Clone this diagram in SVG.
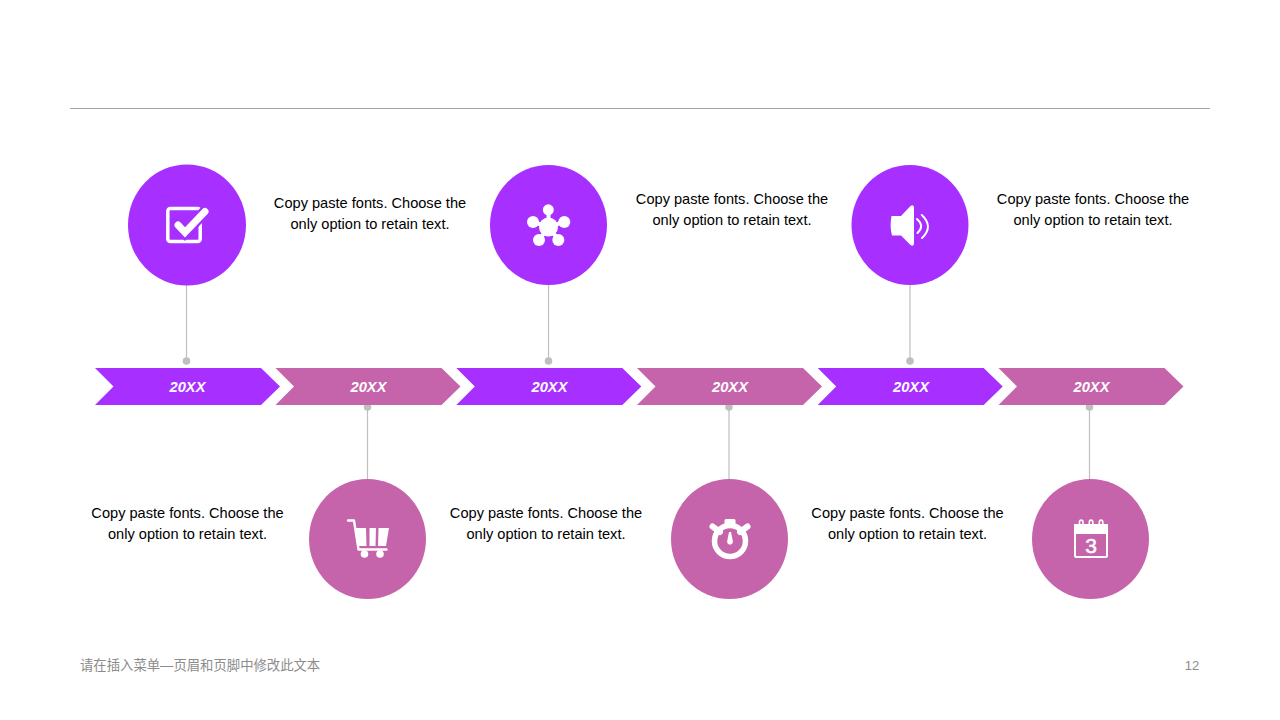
<svg xmlns="http://www.w3.org/2000/svg" width="1280" height="720" viewBox="0 0 1280 720">
<defs>
<path id="chev" d="M0 368H166L185 386.5L166 405H0L18.500 386.500Z"/>
</defs>
<style>
.p{fill:#a72fff}.m{fill:#c664ab}
.w{fill:#fff}
.ws{fill:none;stroke:#fff;stroke-linecap:round;stroke-linejoin:round}
.ln{stroke:#bfbfbf;stroke-width:1.200;fill:none}
.dot{fill:#bfbfbf}
text{font-family:"Liberation Sans",Arial,"Noto Sans CJK SC",sans-serif}
.yr{font-size:14.700px;font-weight:bold;font-style:italic;fill:#fff;text-anchor:middle}
.t{font-size:14.600px;fill:#000;text-anchor:middle}
</style>
<rect width="1280" height="720" fill="#fff"/>
<line x1="70" y1="108.500" x2="1210" y2="108.500" stroke="#a6a6a6" stroke-width="1"/>
<g id="connectors">
<path class="ln" d="M186.500 285V361M548.500 285V361M910 285V361M367.500 407V480M729 407V480M1089.500 407V480"/>
<circle class="dot" cx="186.500" cy="361" r="3.800"/><circle class="dot" cx="548.500" cy="361" r="3.800"/><circle class="dot" cx="910" cy="361" r="3.800"/>
<circle class="dot" cx="367.500" cy="407" r="3.800"/><circle class="dot" cx="729" cy="407" r="3.800"/><circle class="dot" cx="1089.500" cy="407" r="3.800"/>
</g>
<g id="band1"><use href="#chev" x="95" class="p"/><text class="yr" x="187.500" y="392">20XX</text></g>
<g id="band2"><use href="#chev" x="275.500" class="m"/><text class="yr" x="368.500" y="392">20XX</text></g>
<g id="band3"><use href="#chev" x="456.300" class="p"/><text class="yr" x="549.500" y="392">20XX</text></g>
<g id="band4"><use href="#chev" x="637" class="m"/><text class="yr" x="730" y="392">20XX</text></g>
<g id="band5"><use href="#chev" x="817.700" class="p"/><text class="yr" x="911" y="392">20XX</text></g>
<g id="band6"><use href="#chev" x="998.500" class="m"/><text class="yr" x="1091.500" y="392">20XX</text></g>
<g id="node1">
<ellipse class="p" cx="187" cy="225" rx="59" ry="60.500"/>
<rect x="167.800" y="208.500" width="32.400" height="33" rx="2.500" fill="none" stroke="#fff" stroke-width="3.500"/>
<path d="M178 225L185 232.500L205 211.500" fill="none" stroke="#a72fff" stroke-width="11.500" stroke-linecap="round"/>
<path d="M178 225L185 232.500L205 211.500" fill="none" stroke="#fff" stroke-width="7" stroke-linecap="round"/>
<text class="t" x="370" y="208">Copy paste fonts. Choose the</text>
<text class="t" x="370" y="229">only option to retain text.</text>
</g>
<g id="node2">
<ellipse class="m" cx="367.500" cy="539" rx="58.500" ry="60"/>
<path class="w" d="M355.500 528H366L366.500 546H358ZM369.500 528H376L375.500 546H369.500ZM378.500 528H389L386 546H378Z"/>
<path class="ws" d="M348 520.500H354L358.500 549.500H386.500" stroke-width="2.400"/>
<circle class="w" cx="364.500" cy="554" r="3.800"/><circle class="w" cx="380" cy="554" r="3.800"/>
<text class="t" x="187.500" y="518">Copy paste fonts. Choose the</text>
<text class="t" x="187.500" y="539">only option to retain text.</text>
</g>
<g id="node3">
<ellipse class="p" cx="548.500" cy="225" rx="58.500" ry="60"/>
<path class="ws" d="M548.500 227V211M548.500 227L533 222M548.500 227L564 222M548.500 227L539 240M548.500 227L558.500 240" stroke-width="4"/>
<circle class="w" cx="548.500" cy="227" r="9.500"/>
<circle class="w" cx="548.300" cy="209.800" r="5.500"/><circle class="w" cx="533" cy="222" r="6"/><circle class="w" cx="564.300" cy="222" r="6"/><circle class="w" cx="539" cy="240" r="6"/><circle class="w" cx="558.300" cy="240" r="6"/>
<text class="t" x="732" y="204">Copy paste fonts. Choose the</text>
<text class="t" x="732" y="225">only option to retain text.</text>
</g>
<g id="node4">
<ellipse class="m" cx="729.500" cy="539" rx="58.500" ry="60"/>
<rect class="w" x="724.500" y="519" width="11" height="8" rx="1.500"/>
<path class="ws" d="M712.500 526.500L720 532M747.500 526.500L740 532" stroke-width="6"/>
<circle cx="730" cy="541" r="15.500" fill="none" stroke="#fff" stroke-width="5.500"/>
<path class="w" d="M729 532H731L732.800 541A2.900 2.900 0 1 1 727.200 541Z"/>
<text class="t" x="546" y="518">Copy paste fonts. Choose the</text>
<text class="t" x="546" y="539">only option to retain text.</text>
</g>
<g id="node5">
<ellipse class="p" cx="910" cy="225" rx="58.500" ry="60"/>
<path class="w" d="M891.500 216H901L910.500 206Q913.500 204 914 207.500V243.500Q913.500 247 910.500 245L901 235.500H892Q889.500 226 891.500 216Z"/>
<path class="ws" d="M917 219Q925 226 917.500 233M921.800 215Q934 226.500 922 238" stroke-width="2"/>
<text class="t" x="1093" y="204">Copy paste fonts. Choose the</text>
<text class="t" x="1093" y="225">only option to retain text.</text>
</g>
<g id="node6">
<ellipse class="m" cx="1090.500" cy="539" rx="58.500" ry="60"/>
<rect x="1075" y="525" width="32" height="32" rx="1" fill="none" stroke="#fff" stroke-width="2"/>
<rect class="w" x="1074" y="524" width="34" height="10"/>
<path class="ws" d="M1079.500 524V521.500A1.800 1.800 0 0 1 1083 521.500V524M1089.300 524V521.500A1.800 1.800 0 0 1 1092.800 521.500V524M1099.300 524V521.500A1.800 1.800 0 0 1 1102.800 521.500V524" stroke-width="1.600"/>
<text x="1091" y="553" font-size="21" fill="#fff" stroke="#fff" stroke-width="0.500" text-anchor="middle">3</text>
<text class="t" x="907.500" y="518">Copy paste fonts. Choose the</text>
<text class="t" x="907.500" y="539">only option to retain text.</text>
</g>
<text x="80" y="670" font-size="13.350" fill="#8c8c8c">请在插入菜单—页眉和页脚中修改此文本</text>
<text x="1192" y="670" font-size="13" fill="#8c8c8c" text-anchor="middle">12</text>
</svg>
